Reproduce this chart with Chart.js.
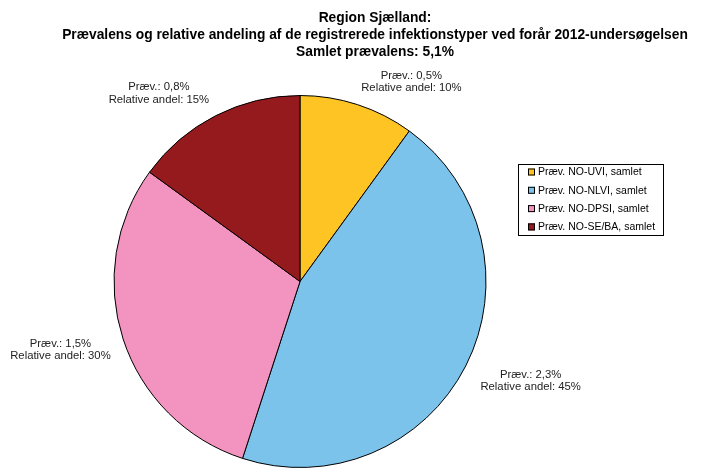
<!DOCTYPE html>
<html lang="da">
<head>
<meta charset="utf-8">
<title>Region Sjælland – prævalens</title>
<script src="https://cdn.jsdelivr.net/npm/chart.js@4/dist/chart.umd.min.js"></script>
<style>
  html, body { margin: 0; padding: 0; background: #fff; }
  #wrap { width: 712px; height: 468px; position: relative; }
</style>
</head>
<body>
<div id="wrap"><canvas id="pieCanvas" width="712" height="468"></canvas></div>
<script>
'use strict';

const TITLE_LINES = [
  'Region Sjælland:',
  'Prævalens og relative andeling af de registrerede infektionstyper ved forår 2012-undersøgelsen',
  'Samlet prævalens: 5,1%',
];

const CATEGORIES = [
  'Præv. NO-UVI, samlet',
  'Præv. NO-NLVI, samlet',
  'Præv. NO-DPSI, samlet',
  'Præv. NO-SE/BA, samlet',
];
const RELATIVE_SHARE = [10, 45, 30, 15];
const PREVALENCE_LABELS = ['0,5%', '2,3%', '1,5%', '0,8%'];
const SLICE_COLORS = ['#FEC423', '#7CC3EC', '#F393C0', '#951A1E'];

const FONT = '"Liberation Sans", Arial, sans-serif';

// small hand tweaks so the outside labels sit where they read best
const labelNudge = [[0, 1], [4, -3], [-1, 7], [-1, 1]];

// Title, outside data labels and the boxed legend are drawn by hand
const decorations = {
  id: 'decorations',
  afterDraw(chart) {
    const ctx = chart.ctx;
    ctx.save();

    ctx.fillStyle = '#000';
    ctx.textAlign = 'center';
    ctx.textBaseline = 'middle';
    ctx.font = `bold 13.8px ${FONT}`;
    TITLE_LINES.forEach((line, i) => ctx.fillText(line, 375, 18 + i * 17.3));

    // data labels just outside each slice
    ctx.font = `11.3px ${FONT}`;
    ctx.fillStyle = '#222';
    const meta = chart.getDatasetMeta(0);
    meta.data.forEach((arc, i) => {
      const mid = (arc.startAngle + arc.endAngle) / 2;
      const r = arc.outerRadius + 12;
      const px = arc.x + Math.cos(mid) * r;
      const py = arc.y + Math.sin(mid) * r;
      const lines = [`Præv.: ${PREVALENCE_LABELS[i]}`, `Relative andel: ${RELATIVE_SHARE[i]}%`];
      const w = Math.max(...lines.map(l => ctx.measureText(l).width));
      const lh = 12.5;
      const h = lines.length * lh;
      const left = Math.cos(mid) >= 0 ? px : px - w;
      const s = Math.sin(mid);
      let top;
      if (Math.abs(s) < 0.4) top = py - h / 2;
      else if (s > 0) top = py;
      else top = py - h;
      const [dx, dy] = labelNudge[i];
      lines.forEach((l, j) => ctx.fillText(l, left + w / 2 + dx, top + lh / 2 + j * lh + dy));
    });

    // legend
    const lx = 518, ly = 164, lw = 145, lh = 71;
    ctx.strokeStyle = '#000';
    ctx.lineWidth = 1;
    ctx.strokeRect(lx + 0.5, ly + 0.5, lw, lh);
    ctx.font = `10.5px ${FONT}`;
    ctx.textAlign = 'left';
    CATEGORIES.forEach((name, i) => {
      const cy = 172 + i * 18.3;
      ctx.fillStyle = SLICE_COLORS[i];
      ctx.fillRect(528, cy - 3.5, 7, 7);
      ctx.strokeRect(528.5, cy - 3, 6, 6);
      ctx.fillStyle = '#000';
      ctx.fillText(name, 538, cy + 0.5);
    });

    ctx.restore();
  },
};

new Chart(document.getElementById('pieCanvas'), {
  type: 'pie',
  data: {
    labels: CATEGORIES,
    datasets: [{
      data: RELATIVE_SHARE,
      backgroundColor: SLICE_COLORS,
      borderColor: '#000',
      borderWidth: 1,
    }],
  },
  options: {
    responsive: false,
    animation: false,
    layout: { padding: { left: 112, right: 224, top: 95, bottom: -3 } },
    plugins: {
      legend: { display: false },
      tooltip: { enabled: false },
      title: { display: false },
    },
  },
  plugins: [decorations],
});
</script>
</body>
</html>
